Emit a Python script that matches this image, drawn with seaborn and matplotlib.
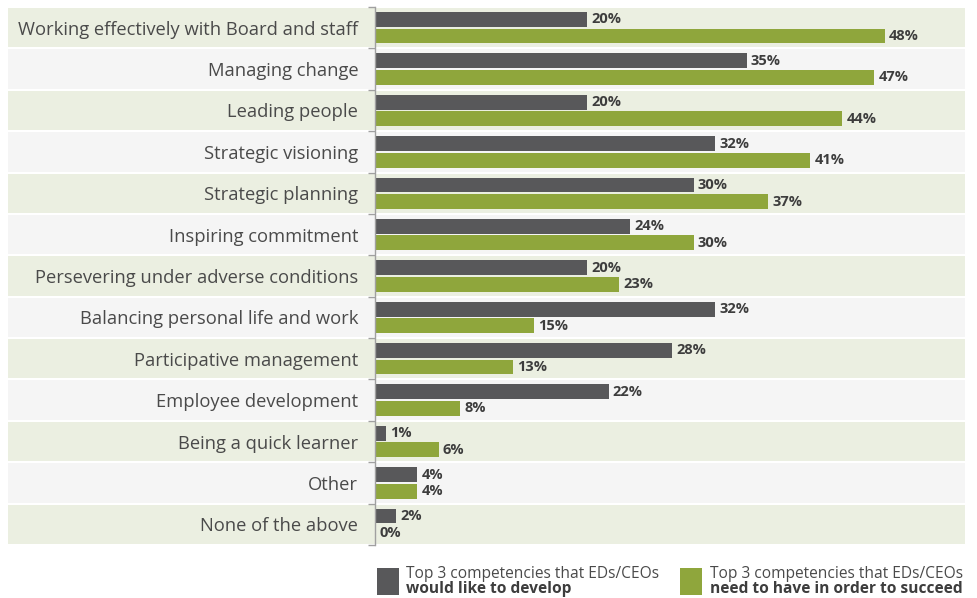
import matplotlib.pyplot as plt
import matplotlib.transforms as mtransforms
from matplotlib.patches import Rectangle
import pandas as pd
import seaborn as sns

competencies = [
    'Working effectively with Board and staff',
    'Managing change',
    'Leading people',
    'Strategic visioning',
    'Strategic planning',
    'Inspiring commitment',
    'Persevering under adverse conditions',
    'Balancing personal life and work',
    'Participative management',
    'Employee development',
    'Being a quick learner',
    'Other',
    'None of the above',
]
would_like_to_develop = [20, 35, 20, 32, 30, 24, 20, 32, 28, 22, 1, 4, 2]
need_to_succeed = [48, 47, 44, 41, 37, 30, 23, 15, 13, 8, 6, 4, 0]
series_names = ['develop', 'succeed']
legend_first_line = 'Top 3 competencies that EDs/CEOs'
legend_second_lines = ['would like to develop', 'need to have in order to succeed']

DARK = '#58585a'
GREEN = '#8fa63c'
ROW_COLORS = ['#ebefe1', '#f5f5f5']
TEXT = '#4a4a4a'

sns.set_theme(style='white')
plt.rcParams['font.family'] = ['Open Sans', 'DejaVu Sans']

df = pd.DataFrame({
    'competency': competencies,
    'develop': would_like_to_develop,
    'succeed': need_to_succeed,
}).melt(id_vars='competency', var_name='series', value_name='value')

W, H = 977, 598
fig = plt.figure(figsize=(W / 100, H / 100), dpi=100)
ax = fig.add_axes([375 / W, 1 - 545 / H, (965 - 375) / W, (545 - 7) / H])
ax.set_facecolor('none')

sns.barplot(
    data=df, y='competency', x='value', hue='series', hue_order=series_names,
    palette=[DARK, GREEN], saturation=1, width=0.8, gap=0.1,
    orient='h', legend=False, linewidth=0, ax=ax,
)

for container, values in zip(ax.containers, [would_like_to_develop, need_to_succeed]):
    ax.bar_label(container, labels=[f'{v}%' for v in values], padding=3,
                 fontsize=10.5, fontweight='bold', color='#3d3d3d')

# alternating row bands that also run under the labels
trans = mtransforms.blended_transform_factory(ax.transAxes, ax.transData)
x0 = (8 - 375) / (965 - 375)
for i in range(len(competencies)):
    ax.add_patch(Rectangle((x0, i - 0.5 + 0.025), 1 - x0, 0.95, transform=trans,
                           facecolor=ROW_COLORS[i % 2], edgecolor='none',
                           zorder=0, clip_on=False))

ax.set_xlim(0, (965 - 375) / 10.62)
ax.set_ylim(len(competencies) - 0.5, -0.5)
ax.set_xlabel('')
ax.set_ylabel('')
ax.set_xticks([])
ax.set_yticks(range(len(competencies)))
ax.set_yticklabels(competencies, fontsize=13.2, color=TEXT)
ax.set_yticks([i - 0.5 for i in range(len(competencies) + 1)], minor=True)
ax.tick_params(axis='y', which='major', length=0, pad=12)
ax.tick_params(axis='y', which='minor', length=5, width=1, color='#a0a0a0', direction='out', left=True)
for side in ['top', 'right', 'bottom']:
    ax.spines[side].set_visible(False)
ax.spines['left'].set_color('#a0a0a0')
ax.spines['left'].set_linewidth(1)

# legend
for x_box, x_text, color, second in [(377, 406, DARK, legend_second_lines[0]),
                                      (680, 710, GREEN, legend_second_lines[1])]:
    fig.add_artist(Rectangle((x_box / W, 1 - 595 / H), 22 / W, 27 / H,
                             transform=fig.transFigure, facecolor=color, edgecolor='none'))
    fig.text(x_text / W, 1 - 574 / H, legend_first_line, va='center', fontsize=11.2, color=TEXT)
    fig.text(x_text / W, 1 - 589 / H, second, va='center', fontsize=11.2,
             fontweight='bold', color='#3d3d3d')

fig.savefig('out.png', dpi=100)
